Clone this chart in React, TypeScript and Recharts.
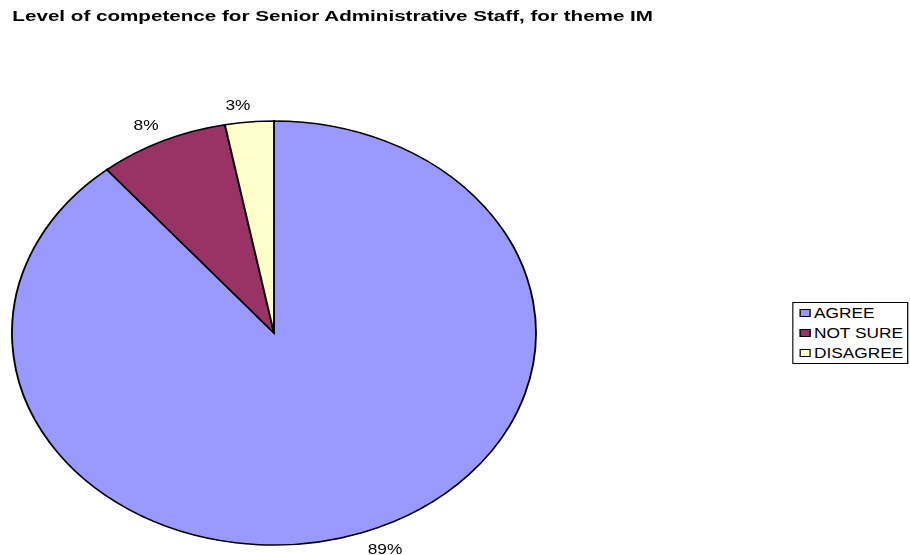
import React from 'react';
import { PieChart, Pie, Cell, Legend } from 'recharts';

const title = 'Level of competence for Senior Administrative Staff, for theme IM';
const categories = ['AGREE', 'NOT SURE', 'DISAGREE'];
const values = [89, 8, 3];
const labels = ['89%', '8%', '3%'];
const colors = ['#9999FF', '#993366', '#FFFFCC'];

const data = categories.map((name, i) => ({ name, value: values[i], label: labels[i] }));

const K = 1.2358; // horizontal stretch of the original picture
const W = 910 / K;
const H = 555;
const FONT = '"Liberation Sans", Arial, sans-serif';
const RAD = Math.PI / 180;

const renderLabel = (props: any) => {
  const { cx, cy, midAngle, outerRadius, index } = props;
  const r = outerRadius + 12;
  const c = Math.cos(-midAngle * RAD);
  const s = Math.sin(-midAngle * RAD);
  const x = cx + r * c;
  const y = cy + r * s;
  const anchor = c >= 0 ? 'start' : 'end';
  const baseY = s < 0 ? y : y + 10;
  return (
    <text
      key={`lbl-${index}`}
      x={x + (c < 0 ? 2 : 0)}
      y={baseY}
      textAnchor={anchor}
      fill="#000"
      fontSize={14}
      fontFamily={FONT}
    >
      {data[index].label}
    </text>
  );
};

const renderLegend = () => {
  return (
    <div
      style={{
        border: '1.5px solid #000',
        boxSizing: 'border-box',
        width: 93.5,
        height: 61.5,
        padding: '0 0 0 5px',
        background: '#fff',
        fontFamily: FONT,
        fontSize: 14,
      }}
    >
      {categories.map((name, i) => (
        <div key={name} style={{ display: 'flex', alignItems: 'center', height: 20.2, lineHeight: '20.2px' }}>
          <span
            style={{
              display: 'inline-block',
              width: 9,
              height: 8,
              border: '1px solid #000',
              background: colors[i],
              marginRight: 2.5,
              boxSizing: 'border-box',
            }}
          />
          <span style={{ color: '#000' }}>{name}</span>
        </div>
      ))}
    </div>
  );
};

export default function App() {
  return (
    <div style={{ position: 'absolute', left: 0, top: 0, width: 910, height: 555, overflow: 'hidden', background: '#fff' }}>
      <div
        style={{
          position: 'absolute',
          left: 0,
          top: 0,
          width: W,
          height: H,
          transform: `scaleX(${K})`,
          transformOrigin: '0 0',
        }}
      >
        <div
          style={{
            position: 'absolute',
            left: 9.7,
            top: 6.5,
            fontFamily: FONT,
            fontWeight: 'bold',
            fontSize: 15,
            lineHeight: '17px',
            whiteSpace: 'nowrap',
            color: '#000',
            zIndex: 2,
            transform: 'scaleX(1.112)',
            transformOrigin: '0 0',
          }}
        >
          {title}
        </div>
        <PieChart width={W} height={H} margin={{ top: 0, right: 0, bottom: 0, left: 0 }}>
          <Pie
            data={data}
            dataKey="value"
            nameKey="name"
            cx={221.7}
            cy={333}
            outerRadius={212}
            startAngle={90}
            endAngle={-270}
            stroke="#000"
            strokeWidth={1.5}
            label={renderLabel}
            labelLine={false}
            isAnimationActive={false}
          >
            {data.map((d, i) => (
              <Cell key={d.name} fill={colors[i]} stroke="#000" strokeWidth={1.5} />
            ))}
          </Pie>
          <Legend
            layout="vertical"
            align="right"
            verticalAlign="middle"
            content={renderLegend}
            wrapperStyle={{ left: 641.1, top: 302, width: 93.5, height: 61.5, right: 'auto', bottom: 'auto' }}
          />
        </PieChart>
      </div>
    </div>
  );
}
